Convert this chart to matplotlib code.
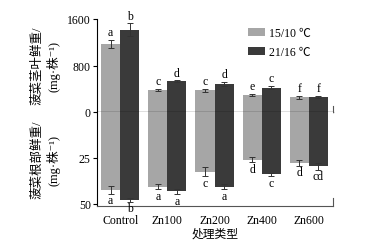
import matplotlib
matplotlib.use("Agg")
import matplotlib.pyplot as plt
import numpy as np

categories = ["Control", "Zn100", "Zn200", "Zn400", "Zn600"]
series_names = ["15/10 ℃", "21/16 ℃"]

shoot_low = [1170, 379, 373, 287, 253]
shoot_high = [1416, 528, 482, 418, 253]
shoot_low_err = [77, 22, 25, 20, 25]
shoot_high_err = [110, 18, 30, 30, 20]
shoot_low_letters = ["a", "c", "c", "e", "f"]
shoot_high_letters = ["b", "d", "d", "c", "f"]

root_low = [42.4, 40.6, 32.4, 25.9, 27.7]
root_high = [47.8, 43.1, 40.6, 33.9, 29.5]
root_low_err = [2.0, 1.5, 2.5, 1.5, 1.5]
root_high_err = [1.0, 1.5, 1.5, 1.0, 2.0]
root_low_letters = ["a", "a", "c", "d", "d"]
root_high_letters = ["b", "a", "a", "c", "cd"]

upper_ticks = [0, 800, 1600]
lower_ticks = [25, 50]

FAM = ["Liberation Serif", "Noto Sans CJK SC", "DejaVu Sans"]
plt.rcParams["font.family"] = FAM
plt.rcParams["font.size"] = 8.5

light = "#a6a6a6"
dark = "#3a3a3a"

fig = plt.figure(figsize=(3.66, 2.53), dpi=100)
L, R = 97 / 366, 333 / 366
y0 = 1 - 113 / 253
ax1 = fig.add_axes([L, y0, R - L, (113 - 20) / 253])
ax2 = fig.add_axes([L, 1 - 207 / 253, R - L, (207 - 113) / 253])

x = np.arange(len(categories))
w = 0.404
ekw = dict(ecolor="#333333", elinewidth=0.7, capsize=2, capthick=0.7)

# upper
ax1.bar(x - w / 2, shoot_low, w, color=light, yerr=shoot_low_err, error_kw=ekw, label=series_names[0])
ax1.bar(x + w / 2, shoot_high, w, color=dark, yerr=shoot_high_err, error_kw=ekw, label=series_names[1])
for i in range(len(x)):
    ax1.text(x[i] - w / 2, shoot_low[i] + shoot_low_err[i] + 30, shoot_low_letters[i], ha="center", va="bottom", fontsize=8.5)
    ax1.text(x[i] + w / 2, shoot_high[i] + shoot_high_err[i] + 30, shoot_high_letters[i], ha="center", va="bottom", fontsize=8.5)
ax1.set_xlim(-0.49, 4.51)
ax1.set_ylim(0, 1600)
ax1.set_yticks(upper_ticks)
ax1.set_xticks([])
for s in ["top", "right", "bottom"]:
    ax1.spines[s].set_visible(False)
ax1.spines["left"].set_linewidth(0.8)
ax1.axhline(0, color="black", lw=0.9, clip_on=False)
ax1.plot([1, 1], [0, 0.065], transform=ax1.transAxes, color="#555555", lw=0.8, clip_on=False)
ax1.tick_params(axis="y", direction="out", length=3, width=0.8, pad=1.5, labelsize=8.5)
ax1.legend(loc="upper left", bbox_to_anchor=(0.62, 0.96), frameon=False, handlelength=1.45,
           handleheight=0.7, labelspacing=0.55, handletextpad=0.35, borderaxespad=0, fontsize=8.5)

# lower
ax2.bar(x - w / 2, root_low, w, color=light, yerr=root_low_err, error_kw=ekw)
ax2.bar(x + w / 2, root_high, w, color=dark, yerr=root_high_err, error_kw=ekw)
for i in range(len(x)):
    ax2.text(x[i] - w / 2, root_low[i] + root_low_err[i] + 0.3, root_low_letters[i], ha="center", va="top", fontsize=8.5)
    ax2.text(x[i] + w / 2, root_high[i] + root_high_err[i] + 0.3, root_high_letters[i], ha="center", va="top", fontsize=8.5)
ax2.set_xlim(-0.49, 4.51)
ax2.set_ylim(51.1, 0)
ax2.set_yticks(lower_ticks)
ax2.set_xticks(x)
ax2.set_xticklabels(categories)
ax2.tick_params(axis="x", length=0, pad=6, labelsize=8.5)
ax2.tick_params(axis="y", direction="out", length=3, width=0.8, pad=1.5, labelsize=8.5)
ax2.spines["top"].set_visible(False)
ax2.spines["right"].set_visible(False)
ax2.spines["left"].set_linewidth(0.8)
ax2.spines["bottom"].set_linewidth(0.8)
ax2.spines["bottom"].set_color("#555555")
ax2.plot([1, 1], [0, 0.085], transform=ax2.transAxes, color="#555555", lw=0.8, clip_on=False)
ax2.set_xlabel("处理类型", fontsize=8.5, labelpad=1)

fig.text(46 / 366, 1 - 66 / 253, "菠菜茎叶鲜重/\n(mg·株⁻¹)", rotation=90, ha="center", va="center",
         fontsize=9, linespacing=1.25, multialignment="center")
fig.text(46 / 366, 1 - 160 / 253, "菠菜根部鲜重/\n(mg·株⁻¹)", rotation=90, ha="center", va="center",
         fontsize=9, linespacing=1.25, multialignment="center")

fig.savefig("out.png", dpi=100)
